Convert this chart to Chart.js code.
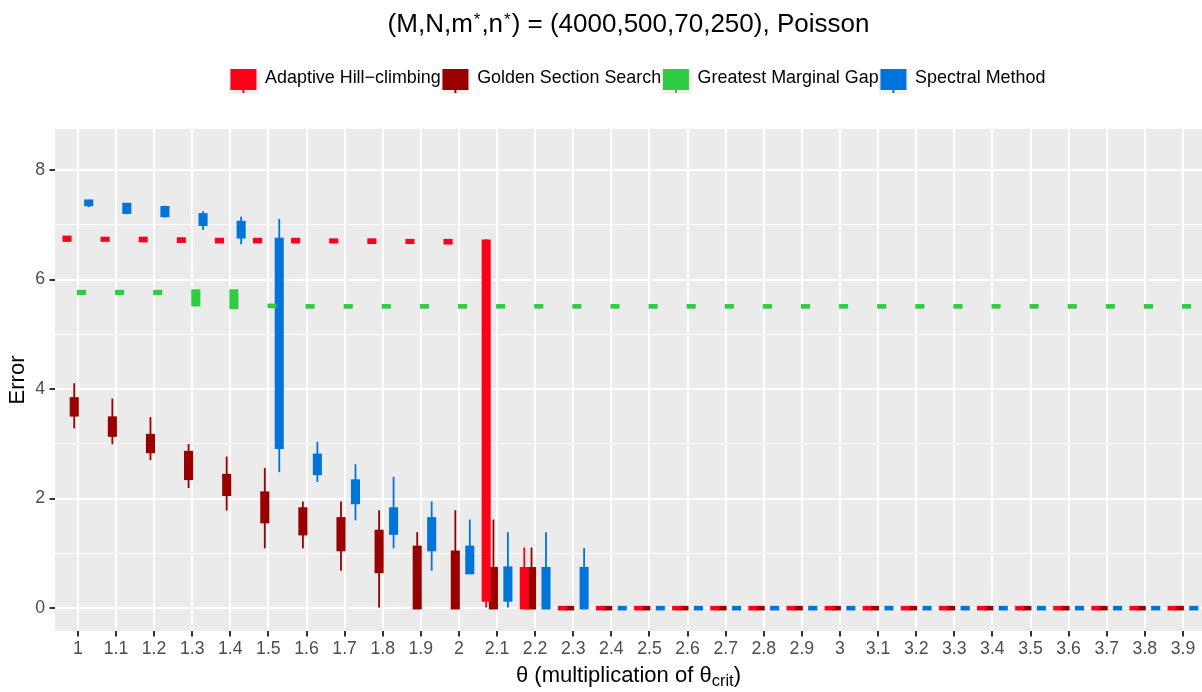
<!DOCTYPE html>
<html>
<head>
<meta charset="utf-8">
<script src="https://cdn.jsdelivr.net/npm/chart.js@4.4.1/dist/chart.umd.min.js"></script>
<style>
  body { margin: 0; background: #fff; overflow: hidden; }
  #marco { position: relative; width: 1202px; height: 692px; font-family: 'Liberation Sans', Arial, sans-serif; }
  #titulo { position: absolute; left: 55px; width: 1147px; top: 8px; text-align: center; font-size: 26px; line-height: 30px; color: #000; white-space: nowrap; }
  #tituloX { position: absolute; left: 55px; width: 1147px; top: 662px; text-align: center; font-size: 22px; line-height: 26px; color: #000; white-space: nowrap; }
  .sup { font-size: 0.65em; position: relative; top: -7px; padding: 0 1px; }
  .sub { font-size: 0.75em; position: relative; top: 4px; }
  canvas { position: absolute; left: 0; top: 0; }
</style>
</head>
<body>
<div id="marco">
  <canvas id="grafico" width="1202" height="692"></canvas>
  <div id="titulo">(M,N,m<span class="sup">*</span>,n<span class="sup">*</span>) = (4000,500,70,250), Poisson</div>
  <div id="tituloX">θ (multiplication of θ<span class="sub">crit</span>)</div>
</div>
<script>
// valores de theta (eje x) y sus etiquetas
const thetas = [1, 1.1, 1.2, 1.3, 1.4, 1.5, 1.6, 1.7, 1.8, 1.9, 2, 2.1, 2.2, 2.3, 2.4, 2.5, 2.6, 2.7, 2.8, 2.9, 3, 3.1, 3.2, 3.3, 3.4, 3.5, 3.6, 3.7, 3.8, 3.9]
const etiquetasX = ['1', '1.1', '1.2', '1.3', '1.4', '1.5', '1.6', '1.7', '1.8', '1.9', '2', '2.1', '2.2', '2.3', '2.4', '2.5', '2.6', '2.7', '2.8', '2.9', '3', '3.1', '3.2', '3.3', '3.4', '3.5', '3.6', '3.7', '3.8', '3.9']
const etiquetasY = ['0', '', '2', '', '4', '', '6', '', '8']

// Adaptive Hill-climbing
const ahcMin = [6.70, 6.72, 6.72, 6.71, 6.68, 6.70, 6.70, 6.70, 6.69, 6.69, 6.68, 0.00, 0.00, 0, 0, 0, 0, 0, 0, 0, 0, 0, 0, 0, 0, 0, 0, 0, 0, 0]
const ahcQ1 = [6.73, 6.73, 6.72, 6.71, 6.70, 6.70, 6.70, 6.70, 6.69, 6.69, 6.68, 0.16, 0.00, 0, 0, 0, 0, 0, 0, 0, 0, 0, 0, 0, 0, 0, 0, 0, 0, 0]
const ahcQ3 = [6.76, 6.74, 6.74, 6.73, 6.72, 6.72, 6.72, 6.71, 6.71, 6.70, 6.70, 6.69, 0.71, 0, 0, 0, 0, 0, 0, 0, 0, 0, 0, 0, 0, 0, 0, 0, 0, 0]
const ahcMax = [6.78, 6.74, 6.74, 6.73, 6.72, 6.72, 6.72, 6.71, 6.71, 6.70, 6.70, 6.73, 1.10, 0, 0, 0, 0, 0, 0, 0, 0, 0, 0, 0, 0, 0, 0, 0, 0, 0]

// Golden Section Search
const gssMin = [3.29, 3.00, 2.71, 2.20, 1.79, 1.10, 1.10, 0.69, 0.00, 0, 0, 0, 0, 0, 0, 0, 0, 0, 0, 0, 0, 0, 0, 0, 0, 0, 0, 0, 0, 0]
const gssQ1 = [3.54, 3.17, 2.87, 2.38, 2.09, 1.59, 1.37, 1.08, 0.68, 0, 0, 0, 0, 0, 0, 0, 0, 0, 0, 0, 0, 0, 0, 0, 0, 0, 0, 0, 0, 0]
const gssQ3 = [3.81, 3.46, 3.14, 2.83, 2.41, 2.09, 1.80, 1.62, 1.39, 1.10, 1.01, 0.71, 0.71, 0, 0, 0, 0, 0, 0, 0, 0, 0, 0, 0, 0, 0, 0, 0, 0, 0]
const gssMax = [4.10, 3.82, 3.48, 2.99, 2.76, 2.55, 1.94, 1.94, 1.78, 1.38, 1.78, 1.61, 1.10, 0, 0, 0, 0, 0, 0, 0, 0, 0, 0, 0, 0, 0, 0, 0, 0, 0]

// Greatest Marginal Gap
const gmgMin = [5.76, 5.76, 5.76, 5.52, 5.50, 5.52, 5.51, 5.51, 5.51, 5.51, 5.51, 5.51, 5.51, 5.51, 5.51, 5.51, 5.51, 5.51, 5.51, 5.51, 5.51, 5.51, 5.51, 5.51, 5.51, 5.51, 5.51, 5.51, 5.51, 5.51]
const gmgQ1 = [5.76, 5.76, 5.76, 5.55, 5.50, 5.52, 5.51, 5.51, 5.51, 5.51, 5.51, 5.51, 5.51, 5.51, 5.51, 5.51, 5.51, 5.51, 5.51, 5.51, 5.51, 5.51, 5.51, 5.51, 5.51, 5.51, 5.51, 5.51, 5.51, 5.51]
const gmgQ3 = [5.77, 5.77, 5.77, 5.78, 5.78, 5.52, 5.51, 5.51, 5.51, 5.51, 5.51, 5.51, 5.51, 5.51, 5.51, 5.51, 5.51, 5.51, 5.51, 5.51, 5.51, 5.51, 5.51, 5.51, 5.51, 5.51, 5.51, 5.51, 5.51, 5.51]
const gmgMax = [5.77, 5.77, 5.77, 5.78, 5.78, 5.52, 5.51, 5.51, 5.51, 5.51, 5.51, 5.51, 5.51, 5.51, 5.51, 5.51, 5.51, 5.51, 5.51, 5.51, 5.51, 5.51, 5.51, 5.51, 5.51, 5.51, 5.51, 5.51, 5.51, 5.51]

// Spectral Method
const spmMin = [7.33, 7.20, 7.14, 6.91, 6.65, 2.49, 2.31, 1.61, 1.10, 0.69, 0.66, 0.00, 0.00, 0.00, 0, 0, 0, 0, 0, 0, 0, 0, 0, 0, 0, 0, 0, 0, 0, 0]
const spmQ1 = [7.38, 7.24, 7.18, 7.02, 6.79, 2.95, 2.47, 1.94, 1.38, 1.08, 0.66, 0.16, 0.00, 0.00, 0, 0, 0, 0, 0, 0, 0, 0, 0, 0, 0, 0, 0, 0, 0, 0]
const spmQ3 = [7.42, 7.36, 7.30, 7.17, 7.03, 6.72, 2.78, 2.31, 1.80, 1.62, 1.10, 0.72, 0.71, 0.71, 0, 0, 0, 0, 0, 0, 0, 0, 0, 0, 0, 0, 0, 0, 0, 0]
const spmMax = [7.45, 7.39, 7.34, 7.24, 7.14, 7.10, 3.03, 2.62, 2.39, 1.94, 1.61, 1.38, 1.38, 1.09, 0, 0, 0, 0, 0, 0, 0, 0, 0, 0, 0, 0, 0, 0, 0, 0]

const fuente = "'Liberation Sans', Arial, sans-serif"

const series = [
    { nombre: 'Adaptive Hill−climbing', color: '#FF001A', lo: ahcMin, q1: ahcQ1, q3: ahcQ3, hi: ahcMax, stack: 'a' },
    { nombre: 'Golden Section Search', color: '#990000', lo: gssMin, q1: gssQ1, q3: gssQ3, hi: gssMax, stack: 'b' },
    { nombre: 'Greatest Marginal Gap', color: '#2ECC40', lo: gmgMin, q1: gmgQ1, q3: gmgQ3, hi: gmgMax, stack: 'c' },
    { nombre: 'Spectral Method', color: '#0074D9', lo: spmMin, q1: spmQ1, q3: spmQ3, hi: spmMax, stack: 'd' }
]

// icono de la leyenda: caja con bigote sobre fondo gris
// (el lienzo es mas ancho a la izquierda para que el icono empiece en el borde del item)
const glifo = (color) => {
    const c = document.createElement('canvas')
    c.width = 36
    c.height = 32
    const g = c.getContext('2d')
    g.fillStyle = '#F2F2F2'
    g.fillRect(4, 0, 30, 32)
    g.fillStyle = color
    g.fillRect(18, 1, 2, 30)
    g.fillRect(6, 4, 26, 24)
    return c
}
const iconos = series.map(s => glifo(s.color))

const cajas = series.map(s => ({
    label: s.nombre,
    stack: s.stack,
    data: thetas.map((t, i) => ({ x: t, y: [s.q1[i], s.q3[i]] })),
    backgroundColor: s.color,
    borderWidth: 0,
    inflateAmount: 2.3,
    categoryPercentage: 0.76,
    barPercentage: 0.62
}))

const bigotes = series.map(s => ({
    label: s.nombre + ' (bigote)',
    stack: s.stack,
    data: thetas.map((t, i) => ({ x: t, y: [s.lo[i], s.hi[i]] })),
    backgroundColor: s.color,
    borderWidth: 0,
    inflateAmount: 0.4,
    categoryPercentage: 0.76,
    barPercentage: 0.14
}))

const fondoPanel = {
    id: 'fondoPanel',
    beforeDraw(chart) {
        const { ctx, chartArea: a } = chart
        ctx.save()
        ctx.fillStyle = '#EBEBEB'
        ctx.fillRect(a.left, a.top, a.right - a.left, a.bottom - a.top)
        ctx.restore()
    }
}

// mas espacio entre la leyenda y el panel, y leyenda algo corrida a la derecha
const espacioLeyenda = {
    id: 'espacioLeyenda',
    beforeInit(chart) {
        const fitOriginal = chart.legend.fit
        chart.legend.fit = function () {
            fitOriginal.call(this)
            this.height += 32
        }
    },
    afterLayout(chart) {
        chart.legend.left += 36
        chart.legend.right += 36
    }
}

new Chart(document.getElementById('grafico'), {
    type: 'bar',
    data: { datasets: [...cajas, ...bigotes] },
    plugins: [fondoPanel, espacioLeyenda],
    options: {
        responsive: false,
        animation: false,
        layout: { padding: { top: 69, left: 0, right: 0, bottom: 0 } },
        plugins: {
            tooltip: { enabled: false },
            legend: {
                position: 'top',
                align: 'center',
                labels: {
                    usePointStyle: true,
                    pointStyleWidth: 27.55,
                    padding: 0,
                    color: '#000',
                    font: { family: fuente, size: 17.9 },
                    generateLabels: () => series.map((s, i) => ({
                        text: s.nombre,
                        pointStyle: iconos[i],
                        fillStyle: s.color,
                        strokeStyle: s.color,
                        lineWidth: 0,
                        hidden: false,
                        datasetIndex: i,
                        fontColor: '#000'
                    }))
                }
            }
        },
        scales: {
            x: {
                type: 'linear',
                min: 0.94,
                max: 3.95,
                offset: false,
                border: { display: false },
                grid: { offset: false, color: '#FFFFFF', lineWidth: 2, drawTicks: true, tickLength: 5.5, tickColor: '#333333', tickWidth: 2 },
                ticks: {
                    stepSize: 0.1,
                    includeBounds: false,
                    autoSkip: false,
                    maxRotation: 0,
                    padding: 2,
                    color: '#4D4D4D',
                    font: { family: fuente, size: 17.7 },
                    callback: (v, i) => etiquetasX[i]
                },
                afterFit: (escala) => { escala.height = 61 }
            },
            y: {
                min: -0.417,
                max: 8.75,
                stacked: false,
                border: { display: false },
                grid: {
                    color: '#FFFFFF',
                    lineWidth: (c) => (c.tick && c.tick.value % 2 === 0) ? 2 : 1,
                    drawTicks: true,
                    tickLength: 5.5,
                    tickWidth: 2,
                    tickColor: (c) => (c.tick && c.tick.value % 2 === 0) ? '#333333' : 'rgba(0,0,0,0)'
                },
                ticks: {
                    stepSize: 1,
                    includeBounds: false,
                    padding: 4.4,
                    color: '#4D4D4D',
                    font: { family: fuente, size: 17.7 },
                    callback: (v, i) => etiquetasY[i]
                },
                title: { display: true, text: 'Error', color: '#000', font: { family: fuente, size: 22 }, padding: { top: 5, bottom: 0 } },
                afterFit: (escala) => { escala.width = 55 }
            }
        }
    }
})
</script>
</body>
</html>
